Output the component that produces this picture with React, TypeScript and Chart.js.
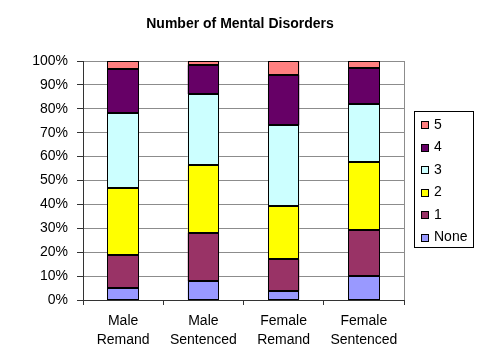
import { useEffect, useRef } from "react";
import { Chart, registerables } from "chart.js";

Chart.register(...registerables);

const titleText = "Number of Mental Disorders";
const categories = [
  ["Male", "Remand"],
  ["Male", "Sentenced"],
  ["Female", "Remand"],
  ["Female", "Sentenced"],
];
const seriesNames = ["None", "1", "2", "3", "4", "5"];
const seriesColors = ["#9999FF", "#993366", "#FFFF00", "#CCFFFF", "#660066", "#FF8080"];
const noneValues = [5.0, 7.9, 3.9, 10.2];
const oneValues = [14.0, 20.2, 13.1, 19.2];
const twoValues = [27.8, 28.2, 22.3, 28.3];
const threeValues = [31.6, 29.9, 33.8, 24.2];
const fourValues = [18.4, 12.0, 21.1, 15.1];
const fiveValues = [3.2, 1.8, 5.8, 3.0];
const yTickValues = [0, 10, 20, 30, 40, 50, 60, 70, 80, 90, 100];

const FONT = '"Liberation Sans", Arial, sans-serif';
const GRID = "#8c8c8c";
const AXIS = "#333333";

const barOutlinePlugin = {
  id: "barOutline",
  afterDatasetsDraw(chart: any) {
    const ctx = chart.ctx as CanvasRenderingContext2D;
    ctx.save();
    ctx.strokeStyle = "#000";
    ctx.lineWidth = 1;
    chart.data.datasets.forEach((_d: any, i: number) => {
      const meta = chart.getDatasetMeta(i);
      meta.data.forEach((el: any) => {
        const { x, y, base, width } = el.getProps(["x", "y", "base", "width"], true);
        const left = Math.round(x - width / 2);
        const right = Math.round(x + width / 2);
        const top = Math.round(Math.min(y, base));
        const bottom = Math.round(Math.max(y, base));
        ctx.strokeRect(left + 0.5, top + 0.5, right - left - 1, bottom - top - 1);
      });
    });
    ctx.restore();
  },
};

const overlayPlugin = {
  id: "overlay",
  afterDraw(chart: any) {
    const ctx = chart.ctx as CanvasRenderingContext2D;
    ctx.save();
    // title
    ctx.font = `bold 14px ${FONT}`;
    ctx.fillStyle = "#000";
    ctx.textAlign = "center";
    ctx.textBaseline = "alphabetic";
    ctx.fillText(titleText, 240, 27.5);
    // legend box
    ctx.strokeStyle = "#000";
    ctx.lineWidth = 1;
    ctx.strokeRect(414.5, 111.5, 59, 136);
    const ds = chart.data.datasets.slice().reverse();
    ctx.font = `14px ${FONT}`;
    ctx.textAlign = "left";
    ctx.textBaseline = "middle";
    ds.forEach((d: any, i: number) => {
      const cy = 125 + i * 22.5;
      const top = Math.round(cy - 4);
      ctx.fillStyle = d.backgroundColor;
      ctx.fillRect(421, top, 8, 8);
      ctx.strokeStyle = "#000";
      ctx.strokeRect(421.5, top + 0.5, 7, 7);
      ctx.fillStyle = "#000";
      ctx.fillText(d.label, 434, cy);
    });
    ctx.restore();
  },
};

export default function App() {
  const ref = useRef<HTMLCanvasElement>(null);
  useEffect(() => {
    document.body.style.margin = "0";
    const valueLists = [noneValues, oneValues, twoValues, threeValues, fourValues, fiveValues];
    const chart = new Chart(ref.current!, {
      type: "bar",
      data: {
        labels: categories as any,
        datasets: seriesNames.map((name, i) => ({
          label: name,
          data: valueLists[i],
          backgroundColor: seriesColors[i],
          borderWidth: 0,
          barPercentage: 0.39,
          categoryPercentage: 1,
        })),
      },
      options: {
        animation: false,
        responsive: false,
        devicePixelRatio: 1,
        layout: { padding: { left: 0, right: 76, top: 61, bottom: 0 } },
        plugins: {
          legend: { display: false },
          tooltip: { enabled: false },
          title: { display: false },
        },
        scales: {
          x: {
            stacked: true,
            offset: true,
            grid: {
              offset: true,
              color: (c: any) => (c.type === "tick" ? "rgba(0,0,0,0)" : GRID),
              tickColor: AXIS,
              tickLength: 5,
            },
            border: { color: AXIS },
            ticks: {
              font: { family: FONT, size: 14, lineHeight: 1.35 },
              color: "#000",
              padding: 7,
              maxRotation: 0,
              autoSkip: false,
            },
            afterFit: (s: any) => {
              s.height = 57;
            },
          },
          y: {
            stacked: true,
            min: 0,
            max: 100,
            afterBuildTicks: (s: any) => {
              s.ticks = yTickValues.map((v) => ({ value: v }));
            },
            ticks: {
              callback: (v: any) => v + "%",
              font: { family: FONT, size: 14 },
              color: "#000",
              padding: 9,
            },
            grid: { color: GRID, tickColor: AXIS, tickLength: 6 },
            border: { color: AXIS },
            afterFit: (s: any) => {
              s.width = 83;
            },
          },
        },
      },
      plugins: [barOutlinePlugin, overlayPlugin],
    });
    return () => chart.destroy();
  }, []);
  return (
    <div style={{ width: 480, height: 357 }}>
      <canvas ref={ref} width={480} height={357} style={{ display: "block" }} />
    </div>
  );
}
